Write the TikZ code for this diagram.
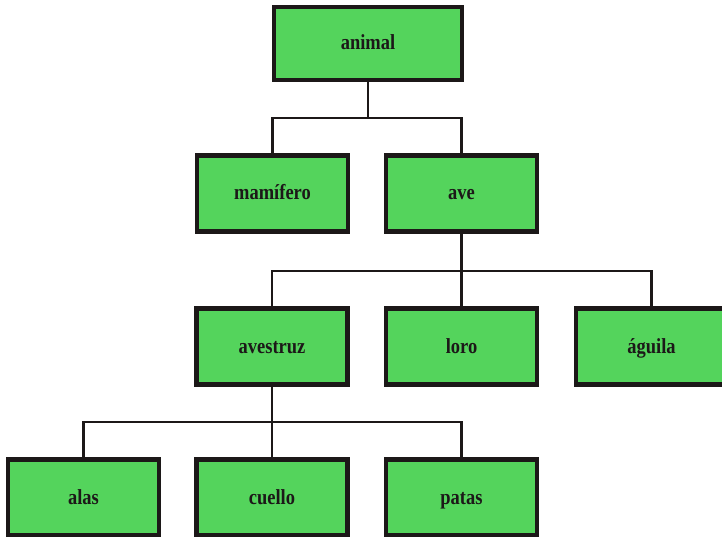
\documentclass[tikz,border=0pt]{standalone}
\usepackage{fontspec}
\setmainfont{Liberation Serif}
\definecolor{boxgreen}{RGB}{84,212,92}
\definecolor{ink}{RGB}{28,24,24}
\newcommand{\lbltext}[1]{\scalebox{0.86}[1]{#1}}
\begin{document}
\begin{tikzpicture}[x=1pt,y=-1pt,
  box/.style={draw=ink, fill=boxgreen, line width=4.5pt, minimum width=151pt, minimum height=76pt,
    inner sep=0pt, font=\fontsize{21.5}{24}\selectfont\bfseries, text=ink,
    text height=15pt, text depth=2pt},
  link/.style={draw=ink, line width=2.2pt}]
\clip (0,0) rectangle (722,537);
\fill[white] (0,0) rectangle (722,537);
\node[box, minimum width=188pt, minimum height=73pt] (animal) at (368,43.5) {\lbltext{animal}};
\node[box] (mam) at (272.5,193.5) {\lbltext{mamífero}};
\node[box] (ave) at (461.5,193.5) {\lbltext{ave}};
\node[box] (avestruz) at (272,346.5) {\lbltext{avestruz}};
\node[box] (loro) at (461.5,346.5) {\lbltext{loro}};
\node[box] (aguila) at (651.5,346.5) {\lbltext{águila}};
\node[box] (alas) at (83.5,497.5) {\lbltext{alas}};
\node[box] (cuello) at (272,497.5) {\lbltext{cuello}};
\node[box] (patas) at (461.5,497.5) {\lbltext{patas}};
\coordinate (j1) at (368,118);
\coordinate (j2) at (461.5,271);
\coordinate (j3) at (272,422);
\draw[link] (animal.south) -- (j1);
\draw[link] (mam.north) |- (j1) -| (ave.north);
\draw[link] (ave.south) -- (j2);
\draw[link] (avestruz.north) |- (j2) -| (aguila.north);
\draw[link] (j2) -- (loro.north);
\draw[link] (avestruz.south) -- (j3);
\draw[link] (alas.north) |- (j3) -| (patas.north);
\draw[link] (j3) -- (cuello.north);
\end{tikzpicture}
\end{document}
